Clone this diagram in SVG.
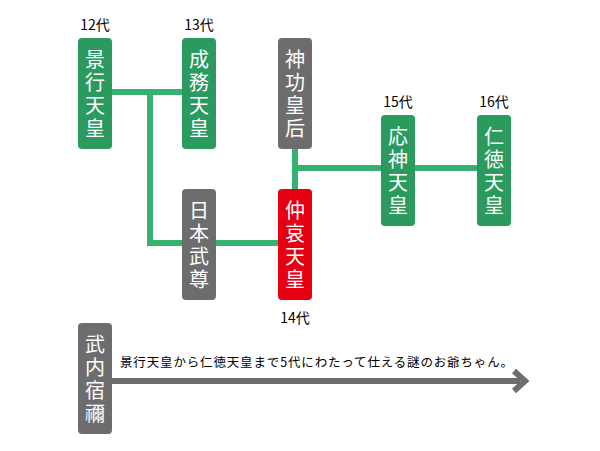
<svg xmlns="http://www.w3.org/2000/svg" width="600" height="451" viewBox="0 0 600 451">
<style>
.g{fill:#2a9a5e}.y{fill:#6e6d6e}.r{fill:#e50012}
.t{fill:#fff;font-family:"Noto Sans CJK JP",sans-serif;font-size:20px;text-anchor:middle}
.l{fill:#000;font-family:"Noto Sans CJK JP",sans-serif;font-size:14px;text-anchor:middle}
.c{stroke:#36b170;stroke-width:6;fill:none}
</style>
<rect width="600" height="451" fill="#fff"/>
<g id="connectors">
<path class="c" d="M112 92H182M150 92V243H278M295 149V189M295 168H477"/>
<path d="M112 381H520" stroke="#6e6d6e" stroke-width="6"/>
<path d="M514 371L525 381L514 391" stroke="#6e6d6e" stroke-width="6" fill="none"/>
</g>
<g id="keiko"><rect class="g" x="78" y="38" width="34" height="111" rx="4"/><text class="t"><tspan x="95" y="67">景</tspan><tspan x="95" y="90">行</tspan><tspan x="95" y="113">天</tspan><tspan x="95" y="136">皇</tspan></text><text class="l" x="95" y="30">12代</text></g>
<g id="seimu"><rect class="g" x="182" y="38" width="34" height="111" rx="4"/><text class="t"><tspan x="199" y="67">成</tspan><tspan x="199" y="90">務</tspan><tspan x="199" y="113">天</tspan><tspan x="199" y="136">皇</tspan></text><text class="l" x="199" y="30">13代</text></g>
<g id="jingu"><rect class="y" x="278" y="38" width="34" height="111" rx="4"/><text class="t"><tspan x="295" y="67">神</tspan><tspan x="295" y="90">功</tspan><tspan x="295" y="113">皇</tspan><tspan x="295" y="136">后</tspan></text></g>
<g id="ojin"><rect class="g" x="381" y="115" width="34" height="111" rx="4"/><text class="t"><tspan x="398" y="144">応</tspan><tspan x="398" y="167">神</tspan><tspan x="398" y="190">天</tspan><tspan x="398" y="213">皇</tspan></text><text class="l" x="398" y="107">15代</text></g>
<g id="nintoku"><rect class="g" x="477" y="115" width="34" height="111" rx="4"/><text class="t"><tspan x="494" y="144">仁</tspan><tspan x="494" y="167">徳</tspan><tspan x="494" y="190">天</tspan><tspan x="494" y="213">皇</tspan></text><text class="l" x="494" y="107">16代</text></g>
<g id="yamatotakeru"><rect class="y" x="182" y="189" width="34" height="111" rx="4"/><text class="t"><tspan x="199" y="218">日</tspan><tspan x="199" y="241">本</tspan><tspan x="199" y="264">武</tspan><tspan x="199" y="287">尊</tspan></text></g>
<g id="chuai"><rect class="r" x="278" y="189" width="34" height="111" rx="4"/><text class="t"><tspan x="295" y="218">仲</tspan><tspan x="295" y="241">哀</tspan><tspan x="295" y="264">天</tspan><tspan x="295" y="287">皇</tspan></text><text class="l" x="295" y="323">14代</text></g>
<g id="takeuchi"><rect class="y" x="78" y="323" width="34" height="111" rx="4"/><text class="t"><tspan x="95" y="352">武</tspan><tspan x="95" y="375">内</tspan><tspan x="95" y="398">宿</tspan><tspan x="95" y="421">禰</tspan></text>
<text x="120" y="367" font-family="Noto Sans CJK JP,sans-serif" font-size="12.5" textLength="393">景行天皇から仁徳天皇まで5代にわたって仕える謎のお爺ちゃん。</text></g>
</svg>
